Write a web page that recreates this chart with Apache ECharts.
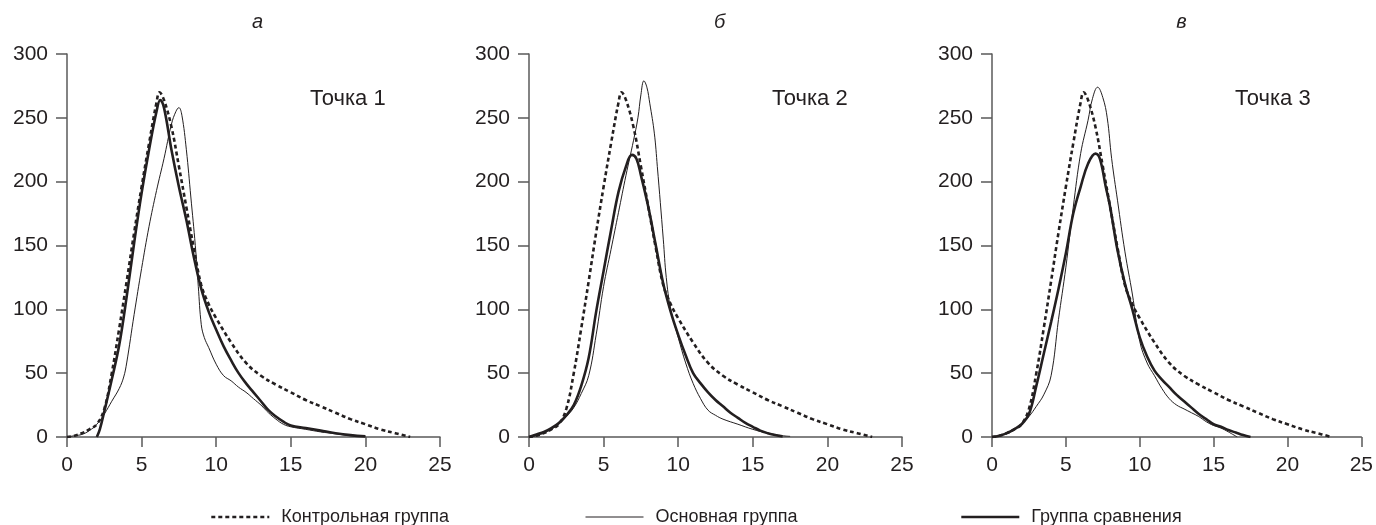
<!DOCTYPE html>
<html>
<head>
<meta charset="utf-8">
<script src="https://cdn.jsdelivr.net/npm/echarts@6/dist/echarts.min.js"></script>
<style>
  html, body { margin: 0; padding: 0; background: #fff; }
  #main { width: 1376px; height: 525px; }
</style>
</head>
<body>
<div id="main"></div>
<script>
// данные: [время, значение]
var panelTitles = ['а', 'б', 'в']
var pointLabels = ['Точка 1', 'Точка 2', 'Точка 3']
var seriesNames = ['Контрольная группа', 'Основная группа', 'Группа сравнения']
var xTicks = [0, 25, 5]
var yTicks = [0, 300, 50]

// контрольная группа одна и та же на всех трёх графиках
var control = [[0,0],[0.5,1],[1,3],[1.5,6],[2,10],[2.5,22],[3,50],[3.5,85],[4,122],[4.5,160],[5,196],[5.5,230],[6,262],[6.2,270],[6.5,264],[7,243],[7.5,212],[8,180],[8.5,148],[9,119],[9.5,104],[10,93],[11,74],[12,58],[13,48],[14,41],[15,35],[16,29],[17,24],[18,19],[19,14],[20,10],[21,6],[22,3],[23,0]]

var mainA = [[0,0],[0.5,1],[1,2],[1.5,5],[2,10],[2.5,18],[3,28],[3.5,38],[3.8,47],[4,58],[4.5,96],[5,132],[5.5,165],[6,193],[6.5,218],[7,245],[7.3,255],[7.5,258],[7.7,252],[8,225],[8.3,188],[8.6,150],[8.8,118],[9,88],[9.2,78],[9.5,70],[10,57],[10.5,48],[11,44],[11.5,39],[12,35],[12.5,30],[13,25],[13.5,19],[14,14],[14.5,10],[15,8],[16,6],[17,4],[18,2.5],[19,1],[20,0.5]]
var compA = [[2,0],[2.2,6],[2.5,20],[3,45],[3.5,72],[4,110],[4.5,152],[5,191],[5.5,225],[6,255],[6.25,264],[6.5,258],[7,225],[7.5,196],[8,170],[8.5,141],[9,116],[9.5,98],[10,84],[10.5,71],[11,60],[11.5,50],[12,42],[12.5,35],[13,28],[13.5,21],[14,16],[14.5,12],[15,9],[16,7],[17,5],[18,3],[19,1.5],[20,0.5]]

var mainB = [[0,0],[0.5,1],[1,3],[1.5,6],[2,10],[2.5,16],[3,23],[3.5,34],[4,48],[4.5,80],[5,118],[5.5,147],[6,176],[6.5,205],[7,232],[7.3,250],[7.5,268],[7.7,279],[7.9,274],[8.1,261],[8.4,238],[8.6,212],[9,155],[9.2,125],[9.5,100],[10,78],[10.5,58],[11,42],[11.5,30],[12,21],[12.5,17],[13,14],[14,10],[15,6],[16,3],[17,1],[17.5,0.5]]
var compB = [[0,0],[0.5,2],[1,4],[1.5,7],[2,11],[2.5,17],[3,25],[3.5,40],[4,62],[4.5,98],[5,130],[5.5,162],[6,192],[6.5,212],[6.9,221],[7.2,218],[7.5,205],[8,180],[8.5,150],[9,120],[9.5,98],[10,80],[10.5,64],[11,50],[11.5,42],[12,35],[12.5,29],[13,24],[13.5,19],[14,15],[14.5,11],[15,8],[15.5,5],[16,3],[16.5,1.5],[17,0.5]]

var mainC = [[0,0],[0.5,1],[1,3],[1.5,6],[2,10],[2.5,16],[3,24],[3.5,33],[4,48],[4.5,92],[5,133],[5.5,180],[6,222],[6.5,248],[6.8,265],[7.15,274],[7.5,266],[7.8,250],[8.1,218],[8.5,185],[9,145],[9.5,112],[10,75],[10.5,58],[11,48],[11.5,38],[12,30],[12.5,25],[13,22],[13.5,19],[14,16],[14.5,12],[15,9],[15.5,7],[16,4],[16.6,0]]
var compC = [[0,0],[0.5,1],[1,3],[1.5,6],[2,10],[2.5,18],[3,40],[3.5,65],[4,90],[4.5,116],[5,144],[5.5,175],[6,196],[6.5,214],[7,222],[7.3,218],[7.7,196],[8,180],[8.5,146],[9,120],[9.5,100],[10,78],[10.5,63],[11,52],[11.5,45],[12,39],[12.5,33],[13,28],[13.5,23],[14,18],[14.5,14],[15,10],[15.5,8],[16,5.5],[16.5,3.5],[17,1.5],[17.5,0]]

var mainList = [mainA, mainB, mainC]
var compList = [compA, compB, compC]

var font = '"Liberation Sans", Arial, sans-serif'
var ink = '#231f20'
var axisColor = '#5a5a5a'
var gridLeft = [67, 529, 992]
var gridWidth = [373, 373, 371]
var lineStyles = [
  { color: ink, width: 2.6, type: [4, 3] },
  { color: ink, width: 1 },
  { color: ink, width: 2.6 }
]

var grids = [], xAxes = [], yAxes = [], series = [], titles = []
for (var i = 0; i < 3; i++) {
  grids.push({ left: gridLeft[i], top: 54, width: gridWidth[i], height: 383 })
  xAxes.push({
    gridIndex: i, type: 'value', min: xTicks[0], max: xTicks[1], interval: xTicks[2],
    axisLine: { lineStyle: { color: axisColor, width: 1.5 } },
    axisTick: { length: 10, lineStyle: { color: axisColor, width: 1.5 } },
    axisLabel: { margin: 18, color: ink, fontSize: 21, fontFamily: font },
    splitLine: { show: false }
  })
  yAxes.push({
    gridIndex: i, type: 'value', min: yTicks[0], max: yTicks[1], interval: yTicks[2],
    axisLine: { show: true, lineStyle: { color: axisColor, width: 1.5 } },
    axisTick: { show: true, length: 11, lineStyle: { color: axisColor, width: 1.5 } },
    axisLabel: { margin: 19, color: ink, fontSize: 21, fontFamily: font },
    splitLine: { show: false }
  })
  titles.push({
    text: panelTitles[i], left: gridLeft[i] + gridWidth[i] / 2 + 4, top: 12, textAlign: 'center', padding: 0,
    textStyle: { fontSize: 20, fontStyle: 'italic', fontWeight: 'normal', color: ink, fontFamily: font }
  })
  titles.push({
    text: pointLabels[i], left: gridLeft[i] + 243, top: 88, padding: 0,
    textStyle: { fontSize: 22, fontWeight: 'normal', color: ink, fontFamily: font }
  })
  series.push({
    name: seriesNames[0], type: 'line', xAxisIndex: i, yAxisIndex: i, data: control,
    smooth: 0.4, symbol: 'none', z: 3, itemStyle: { color: ink }, lineStyle: lineStyles[0]
  })
  series.push({
    name: seriesNames[1], type: 'line', xAxisIndex: i, yAxisIndex: i, data: mainList[i],
    smooth: 0.4, symbol: 'none', z: 2, itemStyle: { color: ink }, lineStyle: lineStyles[1]
  })
  series.push({
    name: seriesNames[2], type: 'line', xAxisIndex: i, yAxisIndex: i, data: compList[i],
    smooth: 0.4, symbol: 'none', z: 4, itemStyle: { color: ink }, lineStyle: lineStyles[2]
  })
}

var legendLeft = [210, 585, 960]
var legends = []
for (var j = 0; j < 3; j++) {
  legends.push({
    data: [{ name: seriesNames[j], lineStyle: lineStyles[j], itemStyle: { opacity: 0 } }],
    left: legendLeft[j], top: 508, padding: 0,
    itemWidth: 58, itemHeight: 18, selectedMode: false,
    itemStyle: { opacity: 0 },
    textStyle: { fontSize: 18, color: ink, fontFamily: font, padding: [0, 0, 0, 7] }
  })
}

var myChart = echarts.init(document.getElementById('main'))
var option = {
  animation: false,
  backgroundColor: '#fff',
  title: titles,
  legend: legends,
  grid: grids,
  xAxis: xAxes,
  yAxis: yAxes,
  series: series
}
myChart.setOption(option)
</script>
</body>
</html>
